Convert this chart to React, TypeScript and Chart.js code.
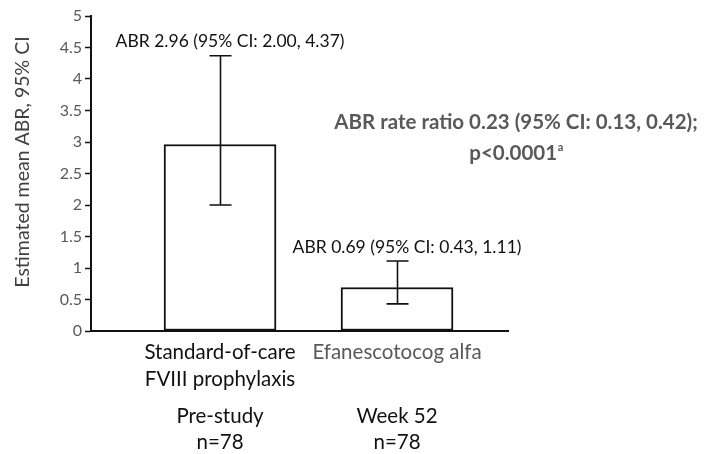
import React, { useEffect, useRef } from "react";
import { Chart, registerables } from "chart.js";

Chart.register(...registerables);

// Treatment groups, one bar each
const treatments: string[][] = [["Standard-of-care", "FVIII prophylaxis"], ["Efanescotocog alfa"]];
const periods: string[] = ["Pre-study", "Week 52"];
const patientCounts: number[] = [78, 78];
const groupPositions: number[] = [1, 2];

// Estimated mean annualized bleeding rate with 95% CI
const abrMean: number[] = [2.96, 0.69];
const ciLower: number[] = [2.0, 0.43];
const ciUpper: number[] = [4.37, 1.11];

// Rate ratio between the two periods
const rateRatio = 0.23;
const ratioCi: number[] = [0.13, 0.42];
const pValueText = "p<0.0001";

const yMin = 0;
const yMax = 5;
const yStep = 0.5;

const FONT = "Lato, 'Open Sans', sans-serif";
const GREY = "#595959";
const INK = "#111111";

const fmt = (v: number) => v.toFixed(2);

const annotations: any = {
  id: "abrAnnotations",
  afterDatasetsDraw(chart: any) {
    const { ctx, scales } = chart;
    const x = scales.x;
    const y = scales.y;
    ctx.save();
    // error bars
    ctx.strokeStyle = INK;
    ctx.lineWidth = 1.6;
    const cap = 11;
    groupPositions.forEach((pos, i) => {
      const cx = Math.round(x.getPixelForValue(pos)) + 0.5;
      const top = y.getPixelForValue(ciUpper[i]);
      const bottom = y.getPixelForValue(ciLower[i]);
      ctx.beginPath();
      ctx.moveTo(cx, top);
      ctx.lineTo(cx, bottom);
      ctx.moveTo(cx - cap, top);
      ctx.lineTo(cx + cap, top);
      ctx.moveTo(cx - cap, bottom);
      ctx.lineTo(cx + cap, bottom);
      ctx.stroke();
    });
    // value labels above the whiskers
    ctx.font = `17.5px ${FONT}`;
    ctx.fillStyle = INK;
    ctx.textAlign = "center";
    ctx.textBaseline = "middle";
    groupPositions.forEach((pos, i) => {
      const cx = x.getPixelForValue(pos) + 10;
      const top = y.getPixelForValue(ciUpper[i]);
      ctx.fillText(`ABR ${fmt(abrMean[i])} (95% CI: ${fmt(ciLower[i])}, ${fmt(ciUpper[i])})`, cx, top - 14);
    });
    ctx.restore();
  },
  afterDraw(chart: any) {
    const { ctx, scales, chartArea } = chart;
    const x = scales.x;
    ctx.save();
    // period and sample size under each group
    ctx.font = `20.5px ${FONT}`;
    ctx.fillStyle = INK;
    ctx.textAlign = "center";
    ctx.textBaseline = "alphabetic";
    groupPositions.forEach((pos, i) => {
      const cx = x.getPixelForValue(pos);
      ctx.fillText(periods[i], cx, 423);
      ctx.fillText(`n=${patientCounts[i]}`, cx, 449);
    });

    // y axis title
    ctx.save();
    ctx.translate(23, 162);
    ctx.rotate(-Math.PI / 2);
    ctx.font = `19.5px ${FONT}`;
    ctx.fillStyle = "#404040";
    ctx.textAlign = "center";
    ctx.textBaseline = "middle";
    ctx.fillText("Estimated mean ABR, 95% CI", 0, 0);
    ctx.restore();

    // rate ratio
    const rx = chartArea.right + 8;
    ctx.font = `bold 20.5px ${FONT}`;
    ctx.fillStyle = GREY;
    ctx.textAlign = "center";
    ctx.textBaseline = "middle";
    ctx.fillText(`ABR rate ratio ${fmt(rateRatio)} (95% CI: ${fmt(ratioCi[0])}, ${fmt(ratioCi[1])});`, rx, 122);
    const pw = ctx.measureText(pValueText).width;
    ctx.font = `bold 11px ${FONT}`;
    const aw = ctx.measureText("a").width;
    const startX = rx - (pw + aw) / 2;
    ctx.textAlign = "left";
    ctx.fillText("a", startX + pw + 0.5, 147);
    ctx.font = `bold 20.5px ${FONT}`;
    ctx.fillText(pValueText, startX, 153);
    ctx.restore();
  },
};

export default function App() {
  const canvasRef = useRef<HTMLCanvasElement | null>(null);

  useEffect(() => {
    if (!canvasRef.current) return;
    const chart = new Chart(canvasRef.current, {
      type: "bar",
      data: {
        datasets: [
          {
            data: groupPositions.map((pos, i) => ({ x: pos, y: abrMean[i] })),
            backgroundColor: "#ffffff",
            borderColor: INK,
            borderWidth: 2,
            borderSkipped: false,
            barThickness: 112,
          },
        ],
      },
      options: {
        responsive: false,
        animation: false,
        devicePixelRatio: 1,
        layout: { padding: { top: 16, right: 198, left: 0, bottom: 0 } },
        plugins: { legend: { display: false }, tooltip: { enabled: false } },
        scales: {
          x: {
            type: "linear",
            offset: false,
            min: 0.271,
            max: 2.627,
            afterBuildTicks: (scale: any) => {
              scale.ticks = groupPositions.map((v) => ({ value: v }));
            },
            afterFit: (scale: any) => {
              scale.height = 123;
            },
            grid: { display: true, offset: false, drawOnChartArea: false, drawTicks: false },
            border: { display: true, color: INK, width: 2 },
            ticks: {
              autoSkip: false,
              maxRotation: 0,
              padding: 8,
              color: (c: any) => (c.index === 0 ? INK : GREY),
              font: { family: FONT, size: 20.5, lineHeight: 1.3 },
              callback: (_v: any, i: number) => treatments[i],
            },
          },
          y: {
            min: yMin,
            max: yMax,
            afterFit: (scale: any) => {
              scale.width = 91;
            },
            grid: { display: true, drawOnChartArea: false, drawTicks: true, tickLength: 6, tickColor: INK, tickWidth: 1.5 },
            border: { display: true, color: INK, width: 2 },
            ticks: {
              stepSize: yStep,
              padding: 3,
              color: GREY,
              font: { family: FONT, size: 16 },
              callback: (v: any) => String(Number(v)),
            },
          },
        },
      },
      plugins: [annotations],
    });
    return () => chart.destroy();
  }, []);

  return (
    <div style={{ position: "fixed", left: 0, top: 0, width: 706, height: 454, background: "#ffffff" }}>
      <canvas ref={canvasRef} width={706} height={454} />
    </div>
  );
}
